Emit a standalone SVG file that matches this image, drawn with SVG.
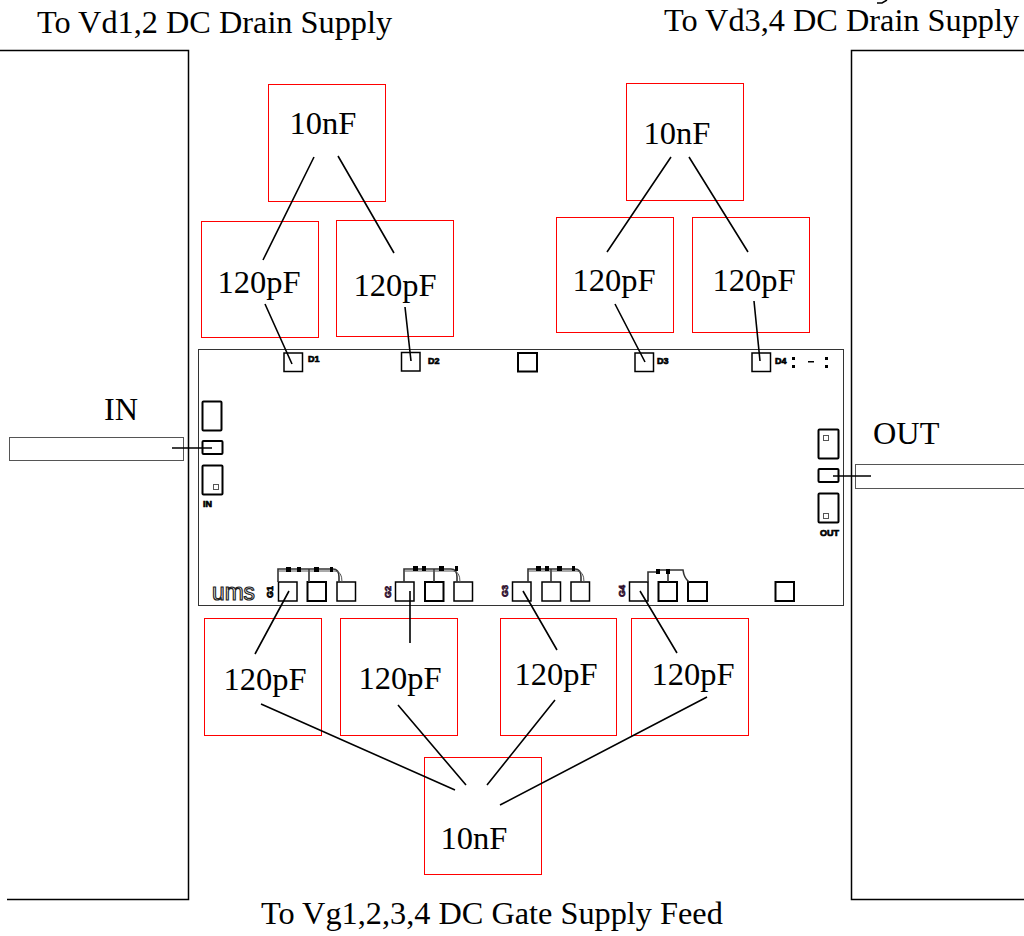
<svg xmlns="http://www.w3.org/2000/svg" width="1024" height="936" viewBox="0 0 1024 936">
<style>
text{font-family:"Liberation Serif","Times New Roman",serif;fill:#000}
.t{font-size:32.300px}
.c{font-size:32.500px;text-anchor:middle}
.cap{fill:#fff;stroke:#f00;stroke-width:1}
.pad{fill:#fff;stroke:#000;stroke-width:1.5}
.padh{fill:#fff;stroke:#000;stroke-width:2}
.thin{fill:none;stroke:#555;stroke-width:1}
.blk{fill:none;stroke:#000;stroke-width:1.5}
.wire{fill:none;stroke:#000;stroke-width:1.6}
.feed{fill:none;stroke:#333;stroke-width:1.6}
.dot{fill:#000}
.s{font-family:"Liberation Sans",Arial,sans-serif;font-size:9px;font-weight:bold;stroke:#000;stroke-width:.7}
.g{fill:#301030;stroke:#301030}
.u{font-family:"Liberation Sans",Arial,sans-serif;font-size:24px;fill:#fff;stroke:#222;stroke-width:1.200}
</style>
<rect width="1024" height="936" fill="#fff"/>
<g id="carrier-left"><path class="blk" d="M0 50.500H188.500V899.500H7"/></g>
<g id="carrier-right"><path class="blk" d="M1024 50.500H851.500V899.500H1024"/></g>
<g id="line-in"><rect x="9.500" y="437.500" width="174" height="23" fill="#fff" stroke="#555"/></g>
<g id="line-out"><rect x="855.500" y="464.500" width="175" height="24" fill="#fff" stroke="#555"/></g>
<g id="chip">
<rect x="198.500" y="349.500" width="645" height="256" fill="#fff" stroke="#333" stroke-width="1"/>
<rect class="padh" x="202.500" y="401.500" width="19" height="29" rx="1"/>
<rect class="padh" x="202.500" y="441" width="20" height="13" rx="1"/>
<rect class="padh" x="202.500" y="465.500" width="20" height="29" rx="1"/>
<rect class="thin" x="213.500" y="484.500" width="5" height="5"/>
<text class="s" x="203" y="507">IN</text>
<rect class="padh" x="818.500" y="429.500" width="20" height="29" rx="1"/>
<rect class="thin" x="823.500" y="435.500" width="5" height="5"/>
<rect class="padh" x="818.500" y="469" width="20" height="13" rx="1"/>
<rect class="padh" x="818.500" y="493.500" width="20" height="29" rx="1"/>
<rect class="thin" x="823.500" y="513.500" width="5" height="5"/>
<text class="s" x="820" y="536">OUT</text>
<rect class="pad" x="284" y="353" width="18.500" height="18.500"/>
<rect class="pad" x="401.500" y="352.500" width="18.500" height="18.500"/>
<rect class="padh" x="518" y="353" width="19" height="18.500"/>
<rect class="pad" x="635" y="353" width="18.500" height="18.500"/>
<rect class="pad" x="752" y="353" width="18.500" height="18.500"/>
<text class="s" x="308" y="362">D1</text>
<text class="s" x="428" y="364">D2</text>
<text class="s" x="657" y="364">D3</text>
<text class="s" x="775" y="364">D4</text>
<rect class="dot" x="792" y="357" width="3" height="3"/>
<rect class="dot" x="792" y="365" width="3" height="3"/>
<rect class="dot" x="808" y="361" width="6" height="1.500"/>
<rect class="dot" x="825" y="357" width="3" height="3"/>
<rect class="dot" x="825" y="365" width="3" height="3"/>
<text class="u" x="212" y="600" textLength="43" lengthAdjust="spacingAndGlyphs">ums</text>
<text class="s" transform="translate(273 598) rotate(-90)">G1</text>
<text class="s g" transform="translate(391 598) rotate(-90)">G2</text>
<text class="s g" transform="translate(508 597) rotate(-90)">G3</text>
<text class="s g" transform="translate(625 597) rotate(-90)">G4</text>
<g id="pads-g">
<rect class="pad" x="278.500" y="582" width="18.500" height="19"/><rect class="padh" x="307.500" y="582" width="18.500" height="19"/><rect class="pad" x="337" y="582" width="18.500" height="19"/>
<rect class="pad" x="395.500" y="582" width="18.500" height="19"/><rect class="padh" x="425" y="582" width="18.500" height="19"/><rect class="pad" x="454" y="582" width="18.500" height="19"/>
<rect class="pad" x="512.500" y="582" width="18.500" height="19"/><rect class="pad" x="542" y="582" width="18.500" height="19"/><rect class="pad" x="571" y="582" width="18.500" height="19"/>
<rect class="pad" x="629.500" y="582" width="18.500" height="19"/><rect class="padh" x="658.500" y="582" width="18.500" height="19"/><rect class="padh" x="688" y="582" width="19" height="19"/>
<rect class="padh" x="775.500" y="582" width="18.500" height="19"/>
</g>
<g id="feeds">
<path class="feed" d="M278 582V569H333Q339 569 339 577V582M309 582V569"/><path class="thin" d="M278 571H335Q342 571 342 582"/>
<path class="feed" d="M404 582V569H451Q457 569 457 577V582M434 582V569"/><path class="thin" d="M404 571H453Q460 571 460 582"/>
<path class="feed" d="M528 582V569H575Q581 569 581 577V582M551 582V569"/><path class="thin" d="M528 571H577Q584 571 584 582"/>
<path class="feed" d="M648 582V572H658V570H683Q684 578 689 582M668 582V570"/>
<rect class="dot" x="286" y="567" width="5" height="5"/><rect class="dot" x="297" y="567" width="4" height="5"/><rect class="dot" x="314" y="567" width="5" height="5"/><rect class="dot" x="330" y="567" width="3" height="5"/>
<rect class="dot" x="413" y="566" width="5" height="5"/><rect class="dot" x="422" y="566" width="4" height="5"/><rect class="dot" x="439" y="566" width="5" height="5"/><rect class="dot" x="455" y="566" width="3" height="5"/>
<rect class="dot" x="536" y="566" width="5" height="5"/><rect class="dot" x="545" y="566" width="4" height="5"/><rect class="dot" x="557" y="566" width="5" height="5"/><rect class="dot" x="572" y="566" width="3" height="5"/>
<rect class="dot" x="656" y="569" width="4" height="5"/><rect class="dot" x="666" y="569" width="4" height="5"/>
</g>
</g>
<g id="cap-10nf-d12"><rect class="cap" x="268.500" y="84.500" width="117" height="117"/><text class="c" x="323" y="134">10nF</text></g>
<g id="cap-10nf-d34"><rect class="cap" x="626.500" y="83.500" width="117" height="117"/><text class="c" x="677" y="144">10nF</text></g>
<g id="cap-120-d1"><rect class="cap" x="201.500" y="221.500" width="117" height="116"/><text class="c" x="259" y="293">120pF</text></g>
<g id="cap-120-d2"><rect class="cap" x="336.500" y="220.500" width="117" height="116"/><text class="c" x="395" y="296">120pF</text></g>
<g id="cap-120-d3"><rect class="cap" x="556.500" y="217.500" width="117" height="115"/><text class="c" x="614" y="291">120pF</text></g>
<g id="cap-120-d4"><rect class="cap" x="692.500" y="217.500" width="117" height="115"/><text class="c" x="754" y="291">120pF</text></g>
<g id="cap-120-g1"><rect class="cap" x="204.500" y="618.500" width="117" height="117"/><text class="c" x="265" y="690">120pF</text></g>
<g id="cap-120-g2"><rect class="cap" x="340.500" y="618.500" width="117" height="117"/><text class="c" x="400" y="689">120pF</text></g>
<g id="cap-120-g3"><rect class="cap" x="500.500" y="618.500" width="116" height="117"/><text class="c" x="556" y="685">120pF</text></g>
<g id="cap-120-g4"><rect class="cap" x="631.500" y="618.500" width="117" height="117"/><text class="c" x="693" y="685">120pF</text></g>
<g id="cap-10nf-g"><rect class="cap" x="424.500" y="757.500" width="117" height="117"/><text class="c" x="474" y="849">10nF</text></g>
<g id="connectors">
<path class="wire" d="M314 157L263 260M338 156L394 253M265 304L292 364M405 307L411 361"/>
<path class="wire" d="M671 157L607 252M689 157L748 252M615 304L645 362M754 301L760 361"/>
<path class="wire" d="M289 591L255 654M410 591V643M523 591L557 650M640 591L677 653"/>
<path class="wire" d="M261 704L455 790M398 705L466 785M555 700L487 785M707 697L500 805"/>
<path class="wire" d="M172 448H212M833 476H871"/>
<path d="M877 3H882L887 0" fill="none" stroke="#000" stroke-width="1.500"/>
</g>
<g id="labels">
<text class="t" x="37" y="33">To Vd1,2 DC Drain Supply</text>
<text class="t" x="664" y="31">To Vd3,4 DC Drain Supply</text>
<text class="t" x="261" y="924">To Vg1,2,3,4 DC Gate Supply Feed</text>
<text class="t" x="104" y="420">IN</text>
<text class="t" x="873" y="444">OUT</text>
</g>
</svg>
